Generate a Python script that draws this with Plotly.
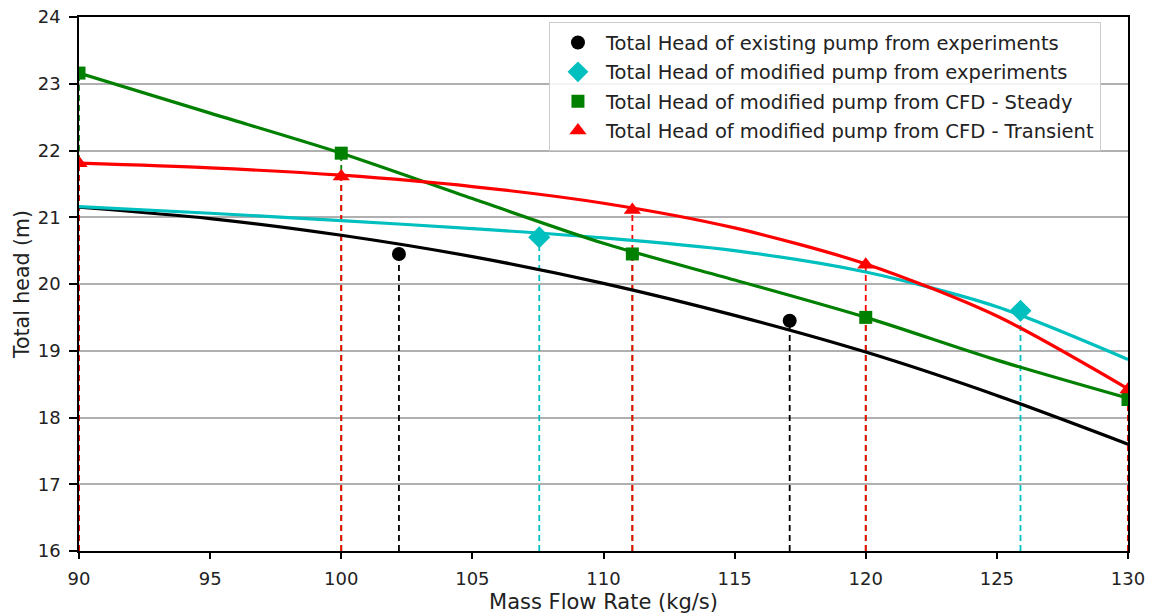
import plotly.graph_objects as go

# ---- data ----
exist_x = [102.2, 117.1]
exist_y = [20.45, 19.45]

mod_x = [107.55, 125.9]
mod_y = [20.70, 19.60]

steady_x = [90, 100, 111.1, 120, 130]
steady_y = [23.16, 21.96, 20.45, 19.50, 18.27]

trans_x = [90, 100, 111.1, 120, 130]
trans_y = [21.81, 21.61, 21.11, 20.29, 18.42]

curve_x = [90, 95, 100, 105, 110, 115, 120, 125, 130]
fit_exist = [21.15, 20.98, 20.73, 20.41, 20.01, 19.53, 18.98, 18.33, 17.60]
fit_mod = [21.16, 21.06, 20.95, 20.83, 20.69, 20.50, 20.18, 19.66, 18.87]
fit_steady = [23.16, 22.56, 21.96, 21.28, 20.61, 20.06, 19.50, 18.86, 18.29]
fit_trans = [21.81, 21.74, 21.63, 21.46, 21.21, 20.84, 20.30, 19.52, 18.43]

labels = [
    "Total Head of existing pump from experiments",
    "Total Head of modified pump from experiments",
    "Total Head of modified pump from CFD - Steady",
    "Total Head of modified pump from CFD - Transient",
]

x_ticks = [90, 95, 100, 105, 110, 115, 120, 125, 130]
y_ticks = [16, 17, 18, 19, 20, 21, 22, 23, 24]
Y_BASE = 16

BLACK = "#000000"
CYAN = "#00bfbf"
GREEN = "#008000"
RED = "#ff0000"

fig = go.Figure()


def drops(xs, ys):
    dx, dy = [], []
    for x, y in zip(xs, ys):
        dx += [x, x, None]
        dy += [Y_BASE, y, None]
    return dx, dy


# dashed drop lines
for xs, ys, col in [(steady_x, steady_y, GREEN), (exist_x, exist_y, BLACK),
                    (mod_x, mod_y, CYAN), (trans_x, trans_y, RED)]:
    dx, dy = drops(xs, ys)
    fig.add_trace(go.Scatter(x=dx, y=dy, mode="lines", showlegend=False,
                             hoverinfo="skip",
                             line=dict(color=col, width=1.8, dash="6px,4px")))

# fitted curves
for ys, col in [(fit_exist, BLACK), (fit_mod, CYAN), (fit_steady, GREEN), (fit_trans, RED)]:
    fig.add_trace(go.Scatter(x=curve_x, y=ys, mode="lines", showlegend=False,
                             line=dict(color=col, width=3.2, shape="spline", smoothing=0.8)))

# markers
fig.add_trace(go.Scatter(x=exist_x, y=exist_y, mode="markers", name=labels[0],
                         legendgroup="a",
                         marker=dict(symbol="circle", size=14, color=BLACK)))
fig.add_trace(go.Scatter(x=mod_x, y=mod_y, mode="markers", name=labels[1],
                         legendgroup="b",
                         marker=dict(symbol="diamond", size=17, color=CYAN)))
fig.add_trace(go.Scatter(x=steady_x, y=steady_y, mode="markers", name=labels[2],
                         legendgroup="c",
                         marker=dict(symbol="square", size=13, color=GREEN)))
fig.add_trace(go.Scatter(x=trans_x, y=trans_y, mode="markers", name=labels[3],
                         legendgroup="d",
                         marker=dict(symbol="triangle-up", size=15, color=RED)))

axis_common = dict(
    showline=True, linecolor="#000000", linewidth=1.5, mirror=True,
    ticks="outside", tickwidth=1.5, tickcolor="#000000",
    zeroline=False, automargin=False,
    tickfont=dict(size=18, color="#222222"),
)

fig.update_layout(
    width=1150, height=615,
    margin=dict(l=79, r=22, t=17, b=64),
    paper_bgcolor="white", plot_bgcolor="white",
    font=dict(family="DejaVu Sans", color="#222222", size=18),
    xaxis=dict(range=[90, 130], tickvals=x_ticks, showgrid=False, ticklen=6,
               ticklabelstandoff=5,
               title=dict(text="Mass Flow Rate (kg/s)", font=dict(size=21), standoff=6),
               **axis_common),
    yaxis=dict(range=[16, 24], tickvals=y_ticks, showgrid=True, ticklen=8,
               ticklabelstandoff=5,
               gridcolor="#b0b0b0", gridwidth=1.5,
               title=dict(text="Total head (m)", font=dict(size=20.5), standoff=3),
               **axis_common),
    legend=dict(x=0.448, y=0.99, xanchor="left", yanchor="top",
                bgcolor="rgba(255,255,255,0.85)", bordercolor="#cccccc", borderwidth=1,
                font=dict(size=19.5, color="#222222"),
                itemwidth=46,
                traceorder="grouped", tracegroupgap=1),
    showlegend=True,
)

fig.write_html("out.html")
